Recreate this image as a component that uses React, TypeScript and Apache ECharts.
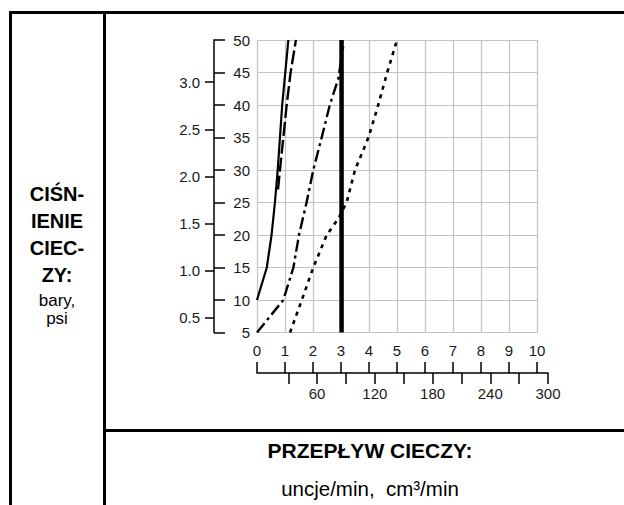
import React, { useEffect, useRef } from "react";
import * as echarts from "echarts";

// ---- data ----
const PSI_PER_BAR = 14.5038;
const ozTicks = [0, 1, 2, 3, 4, 5, 6, 7, 8, 9, 10];
const ccTicks = [30, 60, 90, 120, 150, 180, 210, 240, 270, 300];
const ccLabels = [60, 120, 180, 240, 300];
const barTicks = [0.5, 1.0, 1.5, 2.0, 2.5, 3.0];

// [flow oz/min, pressure psi]
const solidThin: number[][] = [[0, 10], [0.35, 15], [0.52, 20], [0.64, 25], [0.74, 30], [0.82, 35], [0.9, 40], [1.01, 45], [1.12, 50]];
const longDash: number[][] = [[0.75, 27], [0.82, 30], [0.94, 35], [1.06, 40], [1.2, 45], [1.39, 50]];
const dashDot: number[][] = [[0, 5], [0.94, 10], [1.3, 15], [1.5, 20], [1.77, 25], [2.01, 30], [2.31, 35], [2.6, 40], [2.9, 44], [3.08, 49]];
const thickVertical: number[][] = [[3.02, 5], [3.02, 50]];
const dotted: number[][] = [[1.18, 5], [1.6, 10], [2.01, 15], [2.49, 20], [2.9, 22.5], [3.2, 25], [3.5, 30], [3.98, 35], [4.33, 40], [4.65, 45], [5.0, 50]];

const FONT = "'Liberation Sans', Arial, Helvetica, sans-serif";
const TXT = "#1a1a1a";
const GRIDC = "#c2c2c2";
const TICK_FS = 15;

export default function App() {
  const ref = useRef<HTMLDivElement>(null);
  useEffect(() => {
    if (!ref.current) return;
    const chart = echarts.init(ref.current, null, { renderer: "svg" });
    const lineSeries = (data: number[][], width: number, type: any) => ({
      type: "line",
      xAxisIndex: 0,
      yAxisIndex: 0,
      data,
      showSymbol: false,
      symbol: "none",
      smooth: false,
      lineStyle: { color: "#000", width, type, cap: "butt" },
      z: 5,
    });
    const frame = (x1: number, y1: number, x2: number, y2: number) => ({
      type: "line",
      shape: { x1, y1, x2, y2 },
      style: { stroke: "#000", lineWidth: 3 },
      silent: true,
    });
    const txt = (text: string, x: number, y: number, size: number, bold: boolean) => ({
      type: "text",
      x,
      y,
      style: {
        text,
        fill: "#000",
        fontSize: size,
        fontWeight: bold ? "bold" : "normal",
        fontFamily: FONT,
        align: "center",
        verticalAlign: "middle",
      },
    });
    chart.setOption({
      animation: false,
      textStyle: { fontFamily: FONT },
      grid: [
        { left: 257, top: 40, width: 280, height: 292.5, containLabel: false },
        { left: 257, top: 373, width: 291, height: 10, containLabel: false },
      ],
      xAxis: [
        {
          type: "value",
          gridIndex: 0,
          min: 0,
          max: 10,
          interval: 1,
          axisLine: { show: false, onZero: false },
          axisTick: { show: false },
          axisLabel: { color: TXT, fontSize: TICK_FS, margin: 10, fontFamily: FONT },
          splitLine: { show: true, lineStyle: { color: GRIDC, width: 1.2 } },
        },
        {
          type: "value",
          gridIndex: 1,
          position: "top",
          min: 0,
          max: 291 / 28,
          axisLine: { show: true, onZero: false, lineStyle: { color: "#000", width: 1.5 } },
          axisTick: { show: true, inside: false, length: 11, customValues: ozTicks, lineStyle: { color: "#000", width: 1.5 } },
          axisLabel: { show: false },
          splitLine: { show: false },
        },
        {
          type: "value",
          gridIndex: 1,
          position: "top",
          min: -2.5,
          max: 300,
          axisLine: { show: false, onZero: false },
          axisTick: { show: true, inside: true, length: 11, customValues: ccTicks, lineStyle: { color: "#000", width: 1.5 } },
          axisLabel: { show: true, inside: true, margin: 13, customValues: ccLabels, color: TXT, fontSize: TICK_FS, fontFamily: FONT },
          splitLine: { show: false },
        },
      ],
      yAxis: [
        {
          type: "value",
          gridIndex: 0,
          position: "left",
          offset: 43,
          min: 5,
          max: 50,
          interval: 5,
          axisLine: { show: true, onZero: false, lineStyle: { color: "#000", width: 1.5 } },
          axisTick: { show: true, inside: true, length: 11, lineStyle: { color: "#000", width: 1.5 } },
          axisLabel: { inside: true, margin: 36, align: "right", color: TXT, fontSize: TICK_FS, fontFamily: FONT },
          splitLine: { show: true, lineStyle: { color: GRIDC, width: 1.2 } },
        },
        {
          type: "value",
          gridIndex: 0,
          position: "left",
          offset: 43,
          min: 5 / PSI_PER_BAR,
          max: 50 / PSI_PER_BAR,
          axisLine: { show: false, onZero: false },
          axisTick: { show: true, inside: false, length: 9, customValues: barTicks, lineStyle: { color: "#000", width: 1.5 } },
          axisLabel: {
            show: true,
            margin: 14,
            customValues: barTicks,
            formatter: (v: number) => v.toFixed(1),
            color: TXT,
            fontSize: TICK_FS,
            fontFamily: FONT,
          },
          splitLine: { show: false },
        },
        { type: "value", gridIndex: 1, show: false, min: 0, max: 1 },
      ],
      series: [
        lineSeries(solidThin, 2.2, "solid"),
        lineSeries(longDash, 2.4, [14, 4]),
        lineSeries(dashDot, 2.4, [12, 4, 3, 4]),
        lineSeries(thickVertical, 4.5, "solid"),
        lineSeries(dotted, 2.6, [4, 5]),
      ],
      graphic: [
        frame(9, 12.5, 624, 12.5),
        frame(10.5, 11, 10.5, 505),
        frame(104.5, 11, 104.5, 505),
        frame(103, 430.5, 624, 430.5),
        txt("CIŚN-", 57, 194, 20, true),
        txt("IENIE", 57, 221, 20, true),
        txt("CIEC-", 57, 248, 20, true),
        txt("ZY:", 57, 275, 20, true),
        txt("bary,", 57, 300, 17, false),
        txt("psi", 57, 318, 17, false),
        txt("PRZEPŁYW CIECZY:", 370, 450, 21, true),
        txt("uncje/min,  cm³/min", 370, 488, 20.5, false),
      ],
    });
    return () => chart.dispose();
  }, []);
  return (
    <div
      ref={ref}
      style={{ position: "fixed", left: 0, top: 0, width: 624, height: 505, background: "#fff" }}
    />
  );
}
